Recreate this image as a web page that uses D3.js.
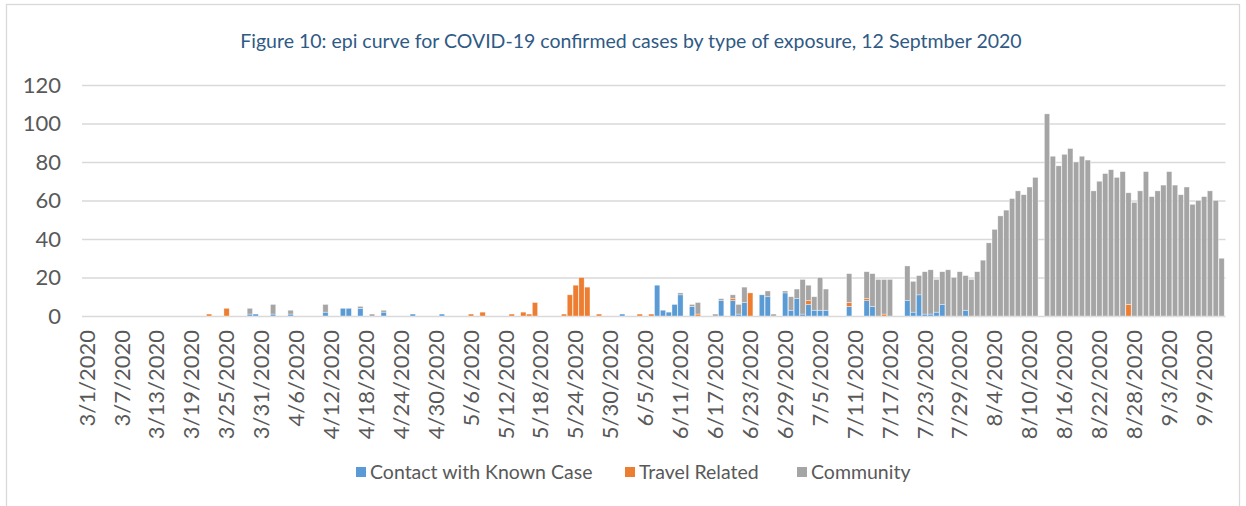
<!DOCTYPE html>
<html>
<head>
<meta charset="utf-8">
<script src="https://cdn.jsdelivr.net/npm/d3@7"></script>
<style>
  body { margin: 0; background: #fff; }
  svg text { font-family: Lato, sans-serif; }
</style>
</head>
<body>
<svg id="chart" width="1246" height="506"></svg>
<script>
/* global d3 */

// one bar per day, 3/1/2020 .. 9/12/2020
const fmt = d3.timeFormat('%-m/%-d/%Y');
const categories = d3.timeDay.range(new Date(2020, 2, 1), new Date(2020, 8, 13)).map(fmt);

const xTickLabels = ['3/1/2020', '3/7/2020', '3/13/2020', '3/19/2020', '3/25/2020', '3/31/2020',
  '4/6/2020', '4/12/2020', '4/18/2020', '4/24/2020', '4/30/2020', '5/6/2020', '5/12/2020',
  '5/18/2020', '5/24/2020', '5/30/2020', '6/5/2020', '6/11/2020', '6/17/2020', '6/23/2020',
  '6/29/2020', '7/5/2020', '7/11/2020', '7/17/2020', '7/23/2020', '7/29/2020', '8/4/2020',
  '8/10/2020', '8/16/2020', '8/22/2020', '8/28/2020', '9/3/2020', '9/9/2020'];
const yTicks = [0, 20, 40, 60, 80, 100, 120];

const seriesNames = ['Contact with Known Case', 'Travel Related', 'Community'];
const seriesColors = ['#5B9BD5', '#ED7D31', '#A5A5A5'];

// rows: Mar, Apr, May, Jun, Jul, Aug, Sep (1-12)
const contact = [].concat(
  [0,0,0,0,0,0,0,0,0,0, 0,0,0,0,0,0,0,0,0,0, 0,0,0,0,0,0,0,0,1,1, 0],
  [0,1,0,0,1,0,0,0,0,0, 2,0,0,4,4,0,4,0,0,0, 2,0,0,0,0,1,0,0,0,0],
  [1,0,0,0,0,0,0,0,0,0, 0,0,0,0,0,0,0,0,0,0, 0,0,0,0,0,0,0,0,0,0, 0],
  [1,0,0,0,0,0,16,3,2,6, 11,0,5,0,0,0,0,8,0,8, 1,7,0,0,11,10,0,0,12,3],
  [9,1,6,3,3,3,0,0,0,5, 0,0,8,5,0,0,0,0,0,8, 2,11,1,1,2,6,0,0,0,3, 0],
  [0,0,0,0,0,0,0,0,0,0, 0,0,0,0,0,0,0,0,0,0, 0,0,0,0,0,0,0,0,0,0, 0],
  [0,0,0,0,0,0,0,0,0,0, 0,0]
);
const travel = [].concat(
  [0,0,0,0,0,0,0,0,0,0, 0,0,0,0,0,0,0,0,0,0, 0,1,0,0,4,0,0,0,0,0, 0],
  [0,0,0,0,0,0,0,0,0,0, 0,0,0,0,0,0,0,0,0,0, 0,0,0,0,0,0,0,0,0,0],
  [0,0,0,0,0,1,0,2,0,0, 0,0,1,0,2,1,7,0,0,0, 0,1,11,16,20,15,0,1,0,0, 0],
  [0,0,0,1,0,1,0,0,0,0, 0,0,0,1,0,0,0,0,0,1, 0,0,12,0,0,0,0,0,0,0],
  [0,0,2,0,0,0,0,0,0,2, 0,0,1,0,0,1,0,0,0,0, 0,0,0,0,0,0,0,0,0,0, 0],
  [0,0,0,0,0,0,0,0,0,0, 0,0,0,0,0,0,0,0,0,0, 0,0,0,0,0,0,6,0,0,0, 0],
  [0,0,0,0,0,0,0,0,0,0, 0,0]
);
const community = [].concat(
  [0,0,0,0,0,0,0,0,0,0, 0,0,0,0,0,0,0,0,0,0, 0,0,0,0,0,0,0,0,3,0, 0],
  [0,5,0,0,2,0,0,0,0,0, 4,0,0,0,0,0,1,0,1,0, 1,0,0,0,0,0,0,0,0,0],
  [0,0,0,0,0,0,0,0,0,0, 0,0,0,0,0,0,0,0,0,0, 0,0,0,0,0,0,0,0,0,0, 0],
  [0,0,0,0,0,0,0,0,0,0, 1,0,1,6,0,0,1,1,0,2, 5,8,0,0,0,3,1,0,1,7],
  [5,18,8,7,17,11,0,0,0,15, 0,0,14,17,19,18,19,0,0,18, 16,10,22,23,17,17,24,20,23,18, 19],
  [23,29,38,45,52,55,61,65,63,67, 72,0,105,83,78,84,87,80,83,81, 65,70,74,76,72,75,58,59,65,75, 62],
  [65,68,75,68,63,67,58,60,62,65, 60,30]
);

const svg = d3.select('#chart');
const plotLeft = 84, plotRight = 1224.5, plotTop = 85, plotBottom = 316;

// chart area border
svg.append('rect')
  .attr('x', 6.5).attr('y', 4.5)
  .attr('width', 1233).attr('height', 530)
  .attr('fill', 'none').attr('stroke', '#d9d9d9').attr('stroke-width', 1.3);

svg.append('text')
  .attr('x', 631).attr('y', 48)
  .attr('text-anchor', 'middle')
  .attr('font-size', 19.5)
  .attr('fill', '#2F5A85')
  .text('Figure 10: epi curve for COVID-19 confirmed cases by type of exposure, 12 Septmber 2020');

let x = d3.scaleBand().domain(categories).range([plotLeft, plotRight]).paddingInner(0.09).paddingOuter(0.045);
let y = d3.scaleLinear().domain([0, 120]).range([plotBottom, plotTop]);

// gridlines + y labels
let yAxis = svg.append('g')
  .attr('transform', `translate(${plotLeft - 2},0)`)
  .call(d3.axisLeft(y).tickValues(yTicks).tickSize(-(plotRight - plotLeft + 3)).tickPadding(21));
yAxis.select('.domain').remove();
yAxis.selectAll('line').attr('stroke', '#d9d9d9').attr('stroke-width', 1.3);
yAxis.selectAll('text').attr('font-size', 22).attr('fill', '#595959');

let rows = categories.map((c, i) => ({
  day: c, contact: contact[i], travel: travel[i], community: community[i]
}));
let stacked = d3.stack().keys(['contact', 'travel', 'community'])(rows);

svg.append('g').selectAll('g').data(stacked).enter().append('g')
  .attr('fill', (d, i) => seriesColors[i])
  .selectAll('rect').data((d) => d.filter((p) => p[1] > p[0])).enter().append('rect')
  .attr('x', (d) => x(d.data.day))
  .attr('y', (d) => y(d[1]))
  .attr('width', x.bandwidth())
  .attr('height', (d) => y(d[0]) - y(d[1]))
  .attr('stroke', '#ffffff')
  .attr('stroke-opacity', 0.6)
  .attr('stroke-width', 0.6);

// x labels, rotated
let xAxis = svg.append('g')
  .attr('transform', `translate(0,${plotBottom})`)
  .call(d3.axisBottom(x).tickValues(xTickLabels).tickSize(0));
xAxis.select('.domain').remove();
xAxis.selectAll('text')
  .attr('font-size', 22)
  .attr('fill', '#595959')
  .attr('text-anchor', 'end')
  .attr('transform', 'rotate(-90)')
  .attr('x', -14)
  .attr('y', 0)
  .attr('dy', '0.35em');

// legend
let legendX = [356, 625, 797];
let legend = svg.append('g').selectAll('g').data(seriesNames).enter().append('g')
  .attr('transform', (d, i) => `translate(${legendX[i]},467)`);
legend.append('rect')
  .attr('width', 10).attr('height', 10)
  .attr('fill', (d, i) => seriesColors[i]);
legend.append('text')
  .attr('x', 14).attr('y', 5)
  .attr('dy', '0.35em')
  .attr('font-size', 19.5)
  .attr('fill', '#595959')
  .text((d) => d);
</script>
</body>
</html>
